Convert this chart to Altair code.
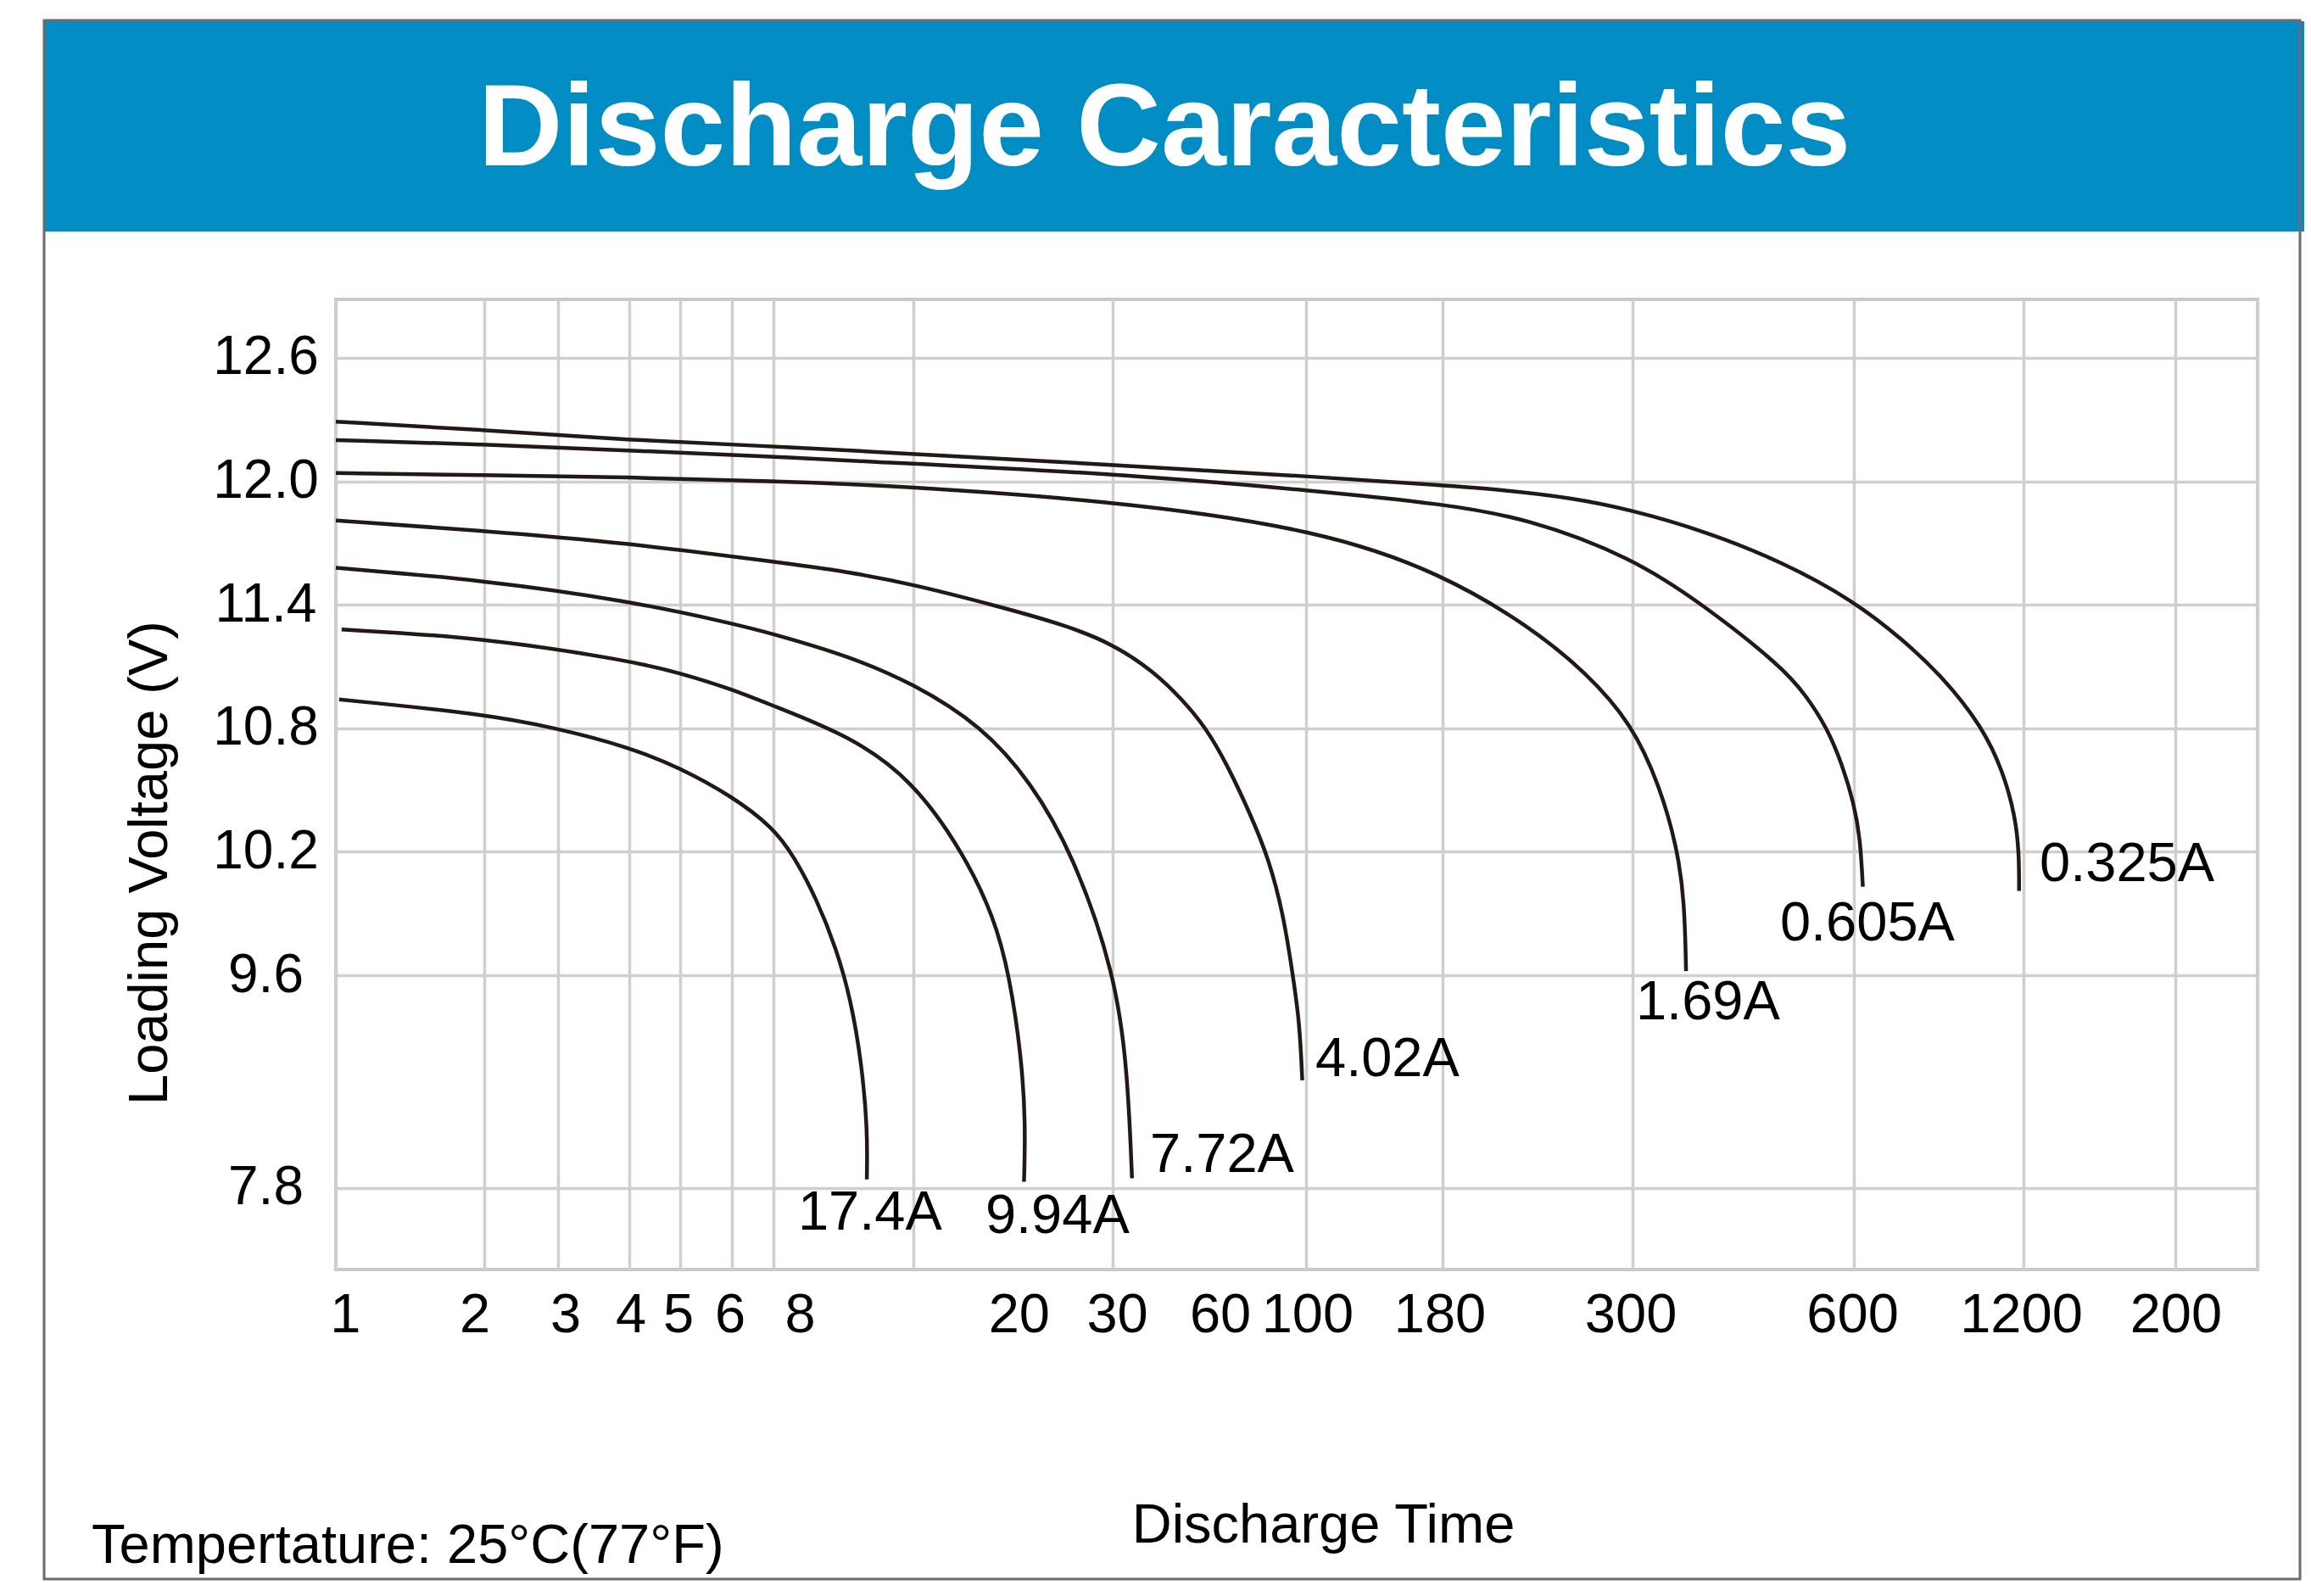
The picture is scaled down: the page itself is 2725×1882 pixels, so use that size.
import altair as alt
import pandas as pd

FONT = "Liberation Sans"
W, H = 2266, 1144

# ---------------- data ----------------
# x positions are given in "axis position" units (0..100 along the time axis)
x_grid = [0, 7.72, 11.56, 15.27, 17.92, 20.61, 22.75, 30.05, 40.42, 50.49,
          57.59, 67.48, 79.0, 87.82, 95.72, 100]
x_tick_labels = ["1", "2", "3", "4", "5", "6", "8", "20", "30", "60", "100",
                 "180", "300", "600", "1200", "200"]
x_tick_pos = [0.5, 7.24, 11.96, 15.36, 17.83, 20.52, 24.17, 35.56, 40.67, 46.03,
              50.57, 57.46, 67.39, 78.93, 87.71, 95.76]
y_ticks = [7.8, 9.6, 10.2, 10.8, 11.4, 12.0, 12.6]

curve_names = ["0.325A", "0.605A", "1.69A", "4.02A", "7.72A", "9.94A", "17.4A"]

t_0325 = [0, 7.66, 15.20, 22.73, 26.70, 40.38, 51.41, 57.57, 60.53, 64.33, 67.45,
          71.17, 75.24, 78.98, 81.55, 83.61, 85.66, 86.76, 87.40, 87.59, 87.59]
v_0325 = [12.29, 12.25, 12.20, 12.17, 12.15, 12.08, 12.02, 11.98, 11.96, 11.92, 11.86,
          11.76, 11.61, 11.42, 11.23, 11.05, 10.81, 10.59, 10.37, 10.19, 10.01]

t_0605 = [0, 7.66, 15.20, 22.73, 26.70, 40.38, 51.41, 57.57, 62.05, 67.45, 71.17,
          75.24, 76.50, 77.61, 78.40, 78.98, 79.32, 79.46]
v_0605 = [12.20, 12.18, 12.15, 12.12, 12.10, 12.04, 11.95, 11.89, 11.82, 11.63, 11.40,
          11.10, 10.96, 10.80, 10.62, 10.44, 10.27, 10.03]

t_169 = [0, 7.66, 15.20, 22.73, 26.70, 40.38, 51.41, 57.57, 62.05, 65.09, 67.45,
         68.89, 69.80, 70.18, 70.26]
v_169 = [12.04, 12.03, 12.02, 12.00, 11.99, 11.91, 11.76, 11.55, 11.30, 11.07, 10.82,
         10.52, 10.22, 9.96, 9.62]

t_402 = [0, 7.66, 15.20, 22.73, 26.70, 30.01, 34.58, 38.0, 40.42, 42.5, 44.0, 45.3,
         46.4, 47.6, 48.53, 49.3, 49.8, 50.15, 50.29]
v_402 = [11.81, 11.76, 11.70, 11.61, 11.56, 11.50, 11.39, 11.30, 11.21, 11.08, 10.945,
         10.80, 10.62, 10.38, 10.17, 9.90, 9.60, 9.20, 8.71]

t_772 = [0, 7.66, 15.20, 20.61, 22.73, 26.70, 30.01, 33.63, 36.16, 38.36, 40.57,
         41.20, 41.43]
v_772 = [11.58, 11.52, 11.42, 11.31, 11.26, 11.15, 11.02, 10.81, 10.54, 10.19, 9.60,
         8.78, 7.88]

t_994 = [0.30, 7.66, 15.20, 17.87, 20.61, 22.73, 26.70, 30.01, 32.69, 34.26, 35.05,
         35.68, 35.89, 35.81]
v_994 = [11.28, 11.24, 11.13, 11.07, 10.99, 10.91, 10.765, 10.55, 10.19, 9.88, 9.60,
         8.91, 8.34, 7.85]

t_174 = [0.17, 7.66, 11.54, 15.20, 17.87, 20.61, 22.73, 23.83, 25.02, 26.04, 26.79,
         27.36, 27.67, 27.63]
v_174 = [10.94, 10.87, 10.80, 10.71, 10.61, 10.47, 10.32, 10.18, 9.97, 9.73, 9.40,
         8.86, 8.29, 7.87]

label_t = [88.66, 75.15, 67.65, 50.97, 42.37, 33.80, 24.05]
label_v = [10.14, 9.85, 9.37, 8.89, 8.08, 7.56, 7.59]

# ---------------- tables ----------------
series = [t_0325, t_0605, t_169, t_402, t_772, t_994, t_174]
values = [v_0325, v_0605, v_169, v_402, v_772, v_994, v_174]
rows = []
for name, ts, vs in zip(curve_names, series, values):
    for i, (t, v) in enumerate(zip(ts, vs)):
        rows.append({"curve": name, "i": i, "t": t, "v": v})
curves_df = pd.DataFrame(rows)
labels_df = pd.DataFrame({"t": label_t, "v": label_v, "label": curve_names})
xlab_df = pd.DataFrame({"t": x_tick_pos, "label": x_tick_labels})
one = pd.DataFrame({"k": [0]})

GRID = "#cfcfcf"
LINE = "#231815"

x_scale = alt.Scale(domain=[0, 100], nice=False, zero=False)
y_scale = alt.Scale(domain=[7.107, 7.8, 9.6, 12.884], range=[H, 1047.5, 797, 0],
                    nice=False, zero=False)

x_axis = alt.Axis(values=x_grid, labels=False, ticks=False, tickSize=0, domain=False,
                  grid=True, gridColor=GRID, gridWidth=3.5,
                  title="Discharge Time", titleFont=FONT, titleFontSize=65,
                  titleFontWeight="normal", titleColor="black",
                  titleX=1164, titleY=321, titleAlign="center",
                  titleBaseline="alphabetic")
y_axis = alt.Axis(values=y_ticks, format=".1f", labelFont=FONT, labelFontSize=64,
                  labelColor="black", labelAlign="center", labelBaseline="middle",
                  labelPadding=83, ticks=False, tickSize=0, domain=False,
                  grid=True, gridColor=GRID, gridWidth=3.5,
                  title="Loading Voltage (V)", titleFont=FONT, titleFontSize=65,
                  titleFontWeight="normal", titleColor="black",
                  titleX=-220, titleY=664, titleAngle=270, titleAlign="center",
                  titleBaseline="middle")

X = alt.X("t:Q", scale=x_scale, axis=x_axis)
Y = alt.Y("v:Q", scale=y_scale, axis=y_axis)

banner = alt.Chart(one).mark_rect(color="#028cc4").encode(
    x=alt.value(-344), x2=alt.value(2321), y=alt.value(-328), y2=alt.value(-80))

border = alt.Chart(one).mark_rect(fillOpacity=0, stroke="#6b6b6b", strokeWidth=3).encode(
    x=alt.value(-344), x2=alt.value(2316), y=alt.value(-329), y2=alt.value(1509))

title = alt.Chart(one).mark_text(text="Discharge Caracteristics", font=FONT,
                                 fontSize=138, fontWeight="bold", color="white",
                                 align="center", baseline="alphabetic").encode(
    x=alt.value(977), y=alt.value(-158))

lines = alt.Chart(curves_df).mark_line(color=LINE, strokeWidth=4.5,
                                       interpolate="basis").encode(
    x=X, y=Y, detail="curve:N", order="i:Q")

curve_labels = alt.Chart(labels_df).mark_text(font=FONT, fontSize=65, color="black",
                                              align="left", baseline="middle").encode(
    x=X, y=Y, text="label:N")

xlabels = alt.Chart(xlab_df).mark_text(font=FONT, fontSize=65, color="black",
                                       align="center", baseline="middle").encode(
    x=X, y=alt.value(1198), text="label:N")

temp = alt.Chart(one).mark_text(text="Tempertature: 25°C(77°F)", font=FONT,
                                fontSize=65, color="black", align="left",
                                baseline="alphabetic").encode(
    x=alt.value(-288), y=alt.value(1490))

chart = alt.layer(banner, border, title, lines, curve_labels, xlabels, temp).properties(
    width=W, height=H,
    autosize=alt.AutoSizeParams(type="none"),
    padding={"left": 388, "top": 345, "right": 55, "bottom": 369},
).configure(background="white").configure_view(stroke="#c9c9c9", strokeWidth=4)

chart.save("out.html", embed_options={"renderer": "svg", "actions": False})
